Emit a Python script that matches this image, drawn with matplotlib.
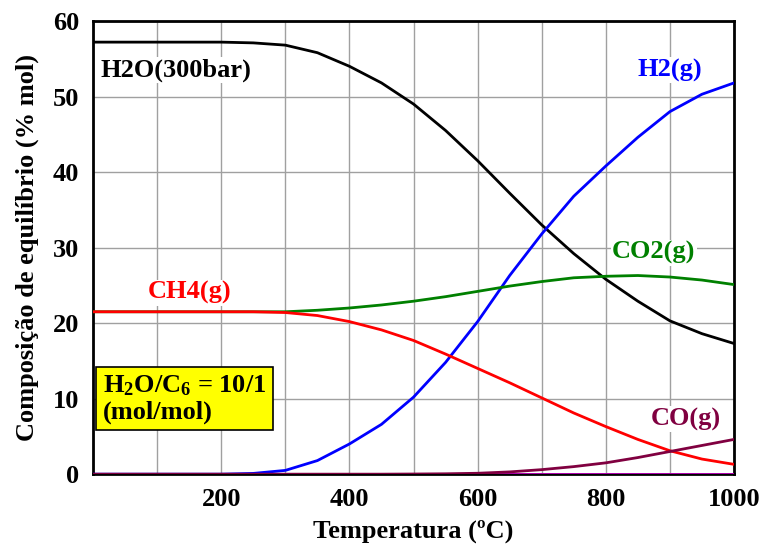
import matplotlib.pyplot as plt
from matplotlib.ticker import MultipleLocator

# fonts - serif bold like the original
plt.rcParams['font.family'] = ['Liberation Serif', 'DejaVu Serif']
plt.rcParams['font.weight'] = 'bold'
plt.rcParams['axes.labelweight'] = 'bold'
plt.rcParams['mathtext.fontset'] = 'custom'
plt.rcParams['mathtext.rm'] = 'Liberation Serif:bold'
plt.rcParams['mathtext.it'] = 'Liberation Serif:bold'
fs = 19

# data
temp = [0, 50, 100, 150, 200, 250, 300, 350, 400, 450, 500, 550, 600, 650,
        700, 750, 800, 850, 900, 950, 1000]
h2o = [57.2, 57.2, 57.2, 57.2, 57.2, 57.1, 56.8, 55.8, 54.0, 51.8, 49.0, 45.5,
       41.5, 37.2, 33.0, 29.2, 25.8, 22.9, 20.3, 18.6, 17.3]
h2 = [0, 0, 0, 0, 0, 0.1, 0.5, 1.8, 4.0, 6.6, 10.2, 14.8, 20.2, 26.3, 31.8,
      36.8, 40.8, 44.6, 48.0, 50.3, 51.8]
co2 = [21.5, 21.5, 21.5, 21.5, 21.5, 21.5, 21.5, 21.7, 22.0, 22.4, 22.9, 23.5,
       24.2, 24.9, 25.5, 26.0, 26.2, 26.3, 26.1, 25.7, 25.1]
ch4 = [21.5, 21.5, 21.5, 21.5, 21.5, 21.5, 21.4, 21.0, 20.2, 19.1, 17.7, 15.9,
       14.0, 12.1, 10.1, 8.1, 6.3, 4.6, 3.1, 2.0, 1.3]
co = [0, 0, 0, 0, 0, 0, 0, 0, 0, 0, 0.02, 0.05, 0.12, 0.3, 0.6, 1.0, 1.5,
      2.2, 3.0, 3.8, 4.6]
c6 = [0] * len(temp)

series = [
    ('H2O(300bar)', h2o, 'black', 11, 53.5, 'left'),
    ('H2(g)', h2, '#0000ff', 900, 53.5, 'center'),
    ('CO2(g)', co2, '#008000', 875, 29.3, 'center'),
    ('CH4(g)', ch4, '#ff0000', 150, 24.0, 'center'),
    ('CO(g)', co, '#800040', 925, 7.3, 'center'),
]

fig = plt.figure(figsize=(7.63, 5.52), dpi=100)
ax = fig.add_axes([0.122, 0.141, 0.840, 0.821])

ax.plot(temp, c6, color='#c000c0', lw=2, zorder=3)
for name, vals, col, tx, ty, ha in series:
    ax.plot(temp, vals, color=col, lw=2, zorder=3)
    ax.text(tx, ty, name, color=col, fontsize=fs, ha=ha, va='center',
            zorder=4, bbox=dict(facecolor='white', edgecolor='none', pad=1))

ax.text(16, 10.0, '$\\mathregular{H_2O/C_6}$ = 10/1\n(mol/mol)', fontsize=fs,
        ha='left', va='center', linespacing=1.1, zorder=5,
        bbox=dict(facecolor='#ffff00', edgecolor='black', lw=1.2, pad=5))

ax.set_xlim(0, 1000)
ax.set_ylim(0, 60)
ax.xaxis.set_minor_locator(MultipleLocator(100))
ax.yaxis.set_major_locator(MultipleLocator(10))
ax.set_xticks([200, 400, 600, 800, 1000])
ax.grid(True, which='both', color='#a0a0a0', lw=1)
ax.set_axisbelow(True)
ax.tick_params(which='both', length=0, labelsize=fs, pad=10)
for s in ax.spines.values():
    s.set_linewidth(2)

ax.set_xlabel('Temperatura (ºC)', fontsize=fs, labelpad=6)
ax.set_ylabel('Composição de equilíbrio (% mol)', fontsize=fs, labelpad=10)

fig.savefig('out.png', dpi=100)
